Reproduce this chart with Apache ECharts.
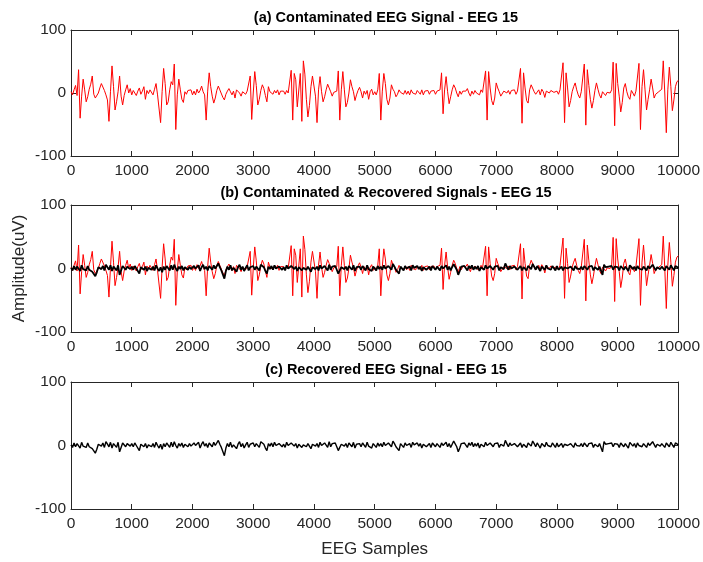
<!DOCTYPE html>
<html>
<head>
<meta charset="utf-8">
<script src="https://cdn.jsdelivr.net/npm/echarts@6/dist/echarts.min.js"></script>
<style>html,body{margin:0;padding:0;background:#fff;}#c{width:703px;height:562px;}</style>
</head>
<body>
<div id="c"></div>
<script>
// Sample step between listed values (samples)
const sampleStep = 25;
const titles = [
  '(a) Contaminated EEG Signal - EEG 15',
  '(b) Contaminated & Recovered Signals - EEG 15',
  '(c) Recovered EEG Signal - EEG 15'
];
const xTicks = [0,1000,2000,3000,4000,5000,6000,7000,8000,9000,10000];
const yTicks = [-100,0,100];
// Contaminated EEG (uV), one value every 25 samples, 0..10000
const contaminated = [
  2,-3,5,12,-4,37,-40,-5,22,5,-14,-6,6,14,27,-2,-8,-10,0,8,
  15,16,4,-3,-11,-45,2,43,10,-27,-14,2,27,-5,-19,-4,5,13,0,7,
  -3,4,2,-4,3,8,-2,3,10,-10,4,-1,5,2,-3,6,15,-3,0,-47,
  2,39,15,-19,-14,5,18,13,46,-58,-3,22,5,-10,-15,2,-2,4,1,5,
  -3,3,-3,6,0,4,11,2,-3,-43,3,32,10,-5,-16,-8,4,11,5,2,
  -7,-11,-2,3,7,2,-3,3,-8,5,7,0,-5,2,5,-2,3,1,27,-42,
  0,34,12,-19,-10,4,13,7,-4,-14,10,2,5,-2,4,0,5,-3,3,1,
  3,-2,4,0,2,36,-43,31,21,-22,-20,31,-45,51,30,-10,-38,-20,10,27,
  26,-5,-47,5,26,2,-14,-6,5,14,8,2,-5,1,4,3,35,-43,5,34,
  5,-22,-15,0,21,10,2,-12,-3,4,9,2,-8,3,-2,4,-10,2,6,-3,
  2,-3,5,31,-43,3,31,15,-10,-19,-8,13,6,2,-6,-2,5,1,3,-2,
  4,-2,3,-3,5,0,3,-2,4,1,-2,5,-3,3,0,4,-2,3,2,4,
  -2,3,1,5,32,-33,5,26,2,-17,-6,5,13,8,0,-6,3,-2,3,1,
  3,7,0,-5,3,-2,4,0,3,-3,5,1,4,35,-43,34,8,-12,-19,-8,
  16,8,2,-5,-8,3,6,0,4,-2,4,2,5,-2,3,3,39,-48,32,8,
  -12,-16,5,13,10,2,-2,-4,5,-3,6,2,-7,3,5,0,4,6,1,4,
  3,-2,5,3,48,-47,32,8,-22,-12,2,10,16,5,-3,-8,2,4,46,-51,
  37,12,-10,-24,-12,4,16,6,-3,-8,2,5,-4,1,4,0,5,49,-52,47,
  15,-5,-30,-15,8,15,2,-6,-10,4,0,-5,3,5,47,-58,10,37,5,-27,
  -10,5,22,8,-8,-2,-5,2,5,6,51,0,-63,5,41,10,-28,-11,10,18,
  20
];
// Recovered EEG (uV), one value every 25 samples, 0..10000
const recovered = [
  1,-3,4,-2,3,0,-4,5,-1,2,-3,4,-2,1,-5,-8,-12,-6,2,5,
  -1,4,-3,6,2,-2,5,-4,3,0,-3,5,-10,-3,4,1,-2,3,6,-1,
  3,-2,4,0,-3,-8,2,5,-2,3,-4,1,4,-2,3,-3,5,0,-4,2,
  -6,3,-2,4,1,-3,5,-2,6,0,-4,3,-1,4,-3,2,5,-2,3,-1,
  -3,4,0,-2,5,-4,2,6,-1,3,-3,4,1,-2,5,0,3,8,2,-3,
  -6,-16,-4,3,-2,5,-3,1,4,-5,2,6,-2,3,-4,1,5,-3,2,0,
  4,-2,3,1,-3,6,8,2,-4,-8,3,-1,4,-2,5,0,-3,3,1,-2,
  2,-3,5,0,-2,4,6,-1,3,-4,2,5,-3,1,4,-2,3,0,-5,2,
  4,-1,3,-3,5,0,-2,4,1,-3,6,-2,3,0,4,-2,-8,-3,2,5,
  -1,3,-3,4,1,-2,5,-4,2,0,3,-2,4,1,-3,5,-1,2,-4,3,
  1,-3,4,-1,3,-2,5,0,-3,4,2,-2,7,3,-2,-4,-8,3,1,-3,
  4,0,-2,3,-3,5,1,-2,4,-1,3,-4,2,5,-2,0,3,-3,4,1,
  -2,3,1,-3,4,0,-1,5,-2,3,-3,2,7,4,-2,-10,-4,3,0,4,
  2,-3,4,0,5,-2,3,-1,4,-4,2,3,-2,5,0,-3,4,1,-2,3,
  0,4,-3,2,5,-1,8,3,-2,4,0,-3,3,5,-2,1,4,-3,2,0,
  -3,4,2,-1,7,3,-2,4,0,-4,3,1,-2,5,0,3,-2,4,1,-3,
  4,-2,1,3,-3,2,5,0,-2,3,1,-3,4,0,2,-1,3,-2,4,1,
  -2,3,0,4,-3,2,1,-2,3,0,-10,6,2,-1,3,0,4,-2,3,1,
  2,-3,4,1,-2,3,0,-4,5,2,-1,3,-3,4,0,2,-2,3,1,-3,
  4,0,-2,6,3,-3,2,5,-1,3,0,-3,4,2,-2,5,1,-3,4,2,
  1
];

const pairs = arr => arr.map((v, i) => [i * sampleStep, v]);
const redData = pairs(contaminated);
const blackData = pairs(recovered);

const FONT = '"Liberation Sans", Arial, Helvetica, sans-serif';
const AX = '#262626';
const grids = [
  {left: 71, right: 22, top: 30, height: 126},
  {left: 71, right: 22, top: 205, height: 127},
  {left: 71, right: 22, top: 382, height: 127}
];
const xAxes = [], yAxes = [], series = [], titleOpts = [];
const plain = v => String(v);
grids.forEach((g, k) => {
  const base = {
    gridIndex: k, type: 'value', min: xTicks[0], max: xTicks[xTicks.length - 1],
    interval: xTicks[1] - xTicks[0],
    axisLine: {show: true, onZero: false, lineStyle: {color: AX, width: 1}},
    axisTick: {show: true, inside: true, length: 5, lineStyle: {color: AX}},
    splitLine: {show: false}
  };
  xAxes.push(Object.assign({}, base, {
    position: 'bottom',
    axisLabel: {show: true, color: AX, fontSize: 15.5, fontFamily: FONT, margin: 7, formatter: plain, showMinLabel: true, showMaxLabel: true},
    name: k === 2 ? 'EEG Samples' : '', nameLocation: 'middle', nameGap: 32,
    nameTextStyle: {color: AX, fontSize: 17, fontFamily: FONT}
  }));
  xAxes.push(Object.assign({}, base, {position: 'top', axisLabel: {show: false}}));
  const ybase = {
    gridIndex: k, type: 'value', min: yTicks[0], max: yTicks[yTicks.length - 1],
    interval: yTicks[1] - yTicks[0],
    axisLine: {show: true, onZero: false, lineStyle: {color: AX, width: 1}},
    axisTick: {show: true, inside: true, length: 5, lineStyle: {color: AX}},
    splitLine: {show: false}
  };
  yAxes.push(Object.assign({}, ybase, {
    position: 'left',
    axisLabel: {show: true, color: AX, fontSize: 15.5, fontFamily: FONT, margin: 5, formatter: plain},
    name: k === 1 ? 'Amplitude(uV)' : '', nameLocation: 'middle', nameGap: 43,
    nameMoveOverlap: false,
    nameTextStyle: {color: AX, fontSize: 17, fontFamily: FONT}
  }));
  yAxes.push(Object.assign({}, ybase, {position: 'right', axisLabel: {show: false}}));
  titleOpts.push({
    text: titles[k], left: 381, textAlign: 'center', top: g.top - 25,
    textStyle: {fontSize: 14.5, fontWeight: 'bold', color: '#000', fontFamily: FONT}
  });
});
const lineBase = {type: 'line', showSymbol: false, symbol: 'none', animation: false, silent: true};
series.push(Object.assign({}, lineBase, {xAxisIndex: 0, yAxisIndex: 0, data: redData, lineStyle: {color: '#ff0000', width: 1}}));
series.push(Object.assign({}, lineBase, {xAxisIndex: 2, yAxisIndex: 2, data: redData, lineStyle: {color: '#ff0000', width: 1}}));
series.push(Object.assign({}, lineBase, {xAxisIndex: 2, yAxisIndex: 2, data: blackData, lineStyle: {color: '#000000', width: 1.8}}));
series.push(Object.assign({}, lineBase, {xAxisIndex: 4, yAxisIndex: 4, data: blackData, lineStyle: {color: '#000000', width: 1.4}}));

const chart = echarts.init(document.getElementById('c'), null, {renderer: 'canvas'});
chart.setOption({
  backgroundColor: '#fff',
  animation: false,
  title: titleOpts,
  grid: grids,
  xAxis: xAxes,
  yAxis: yAxes,
  series: series
});
</script>
</body>
</html>
